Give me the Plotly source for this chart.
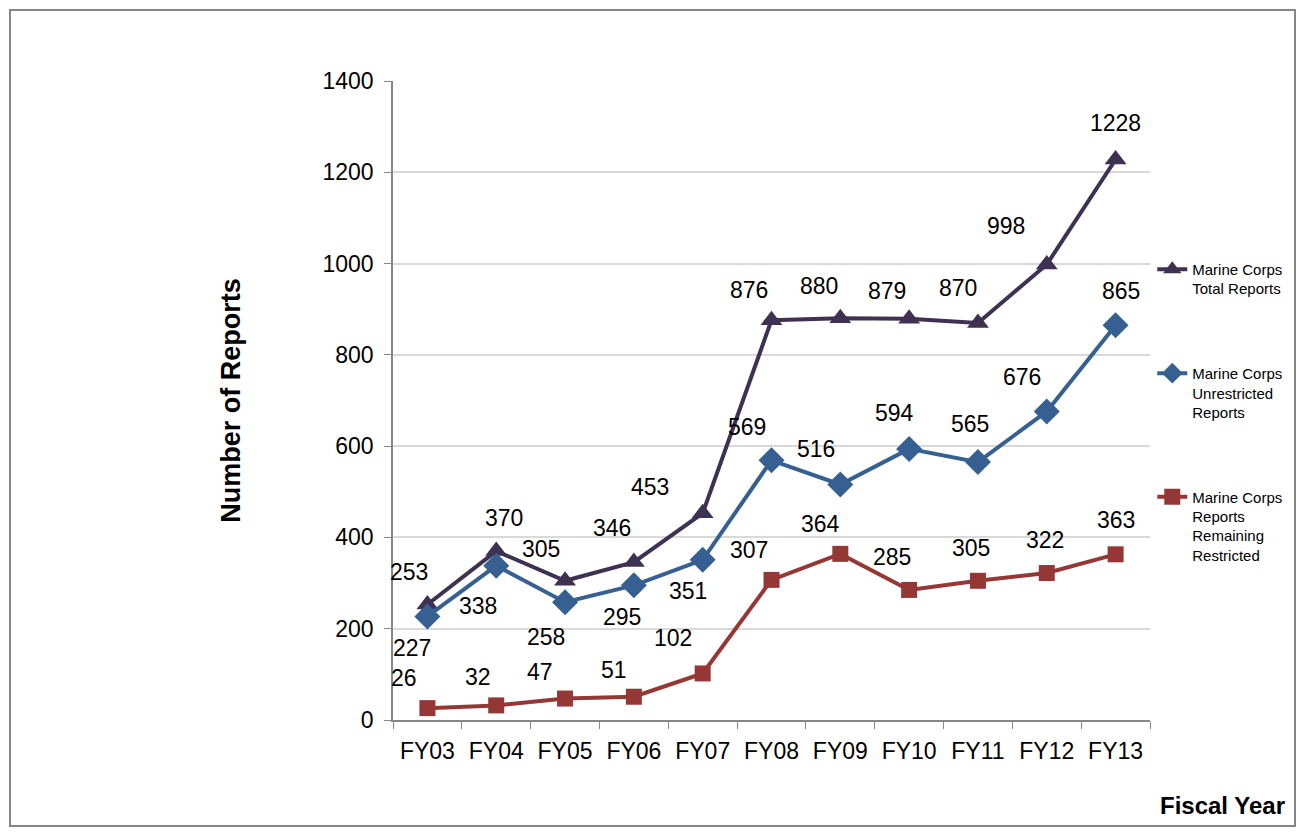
import plotly.graph_objects as go

# ---- data ----
years = ["FY03", "FY04", "FY05", "FY06", "FY07", "FY08", "FY09", "FY10", "FY11", "FY12", "FY13"]
total_reports = [253, 370, 305, 346, 453, 876, 880, 879, 870, 998, 1228]
unrestricted_reports = [227, 338, 258, 295, 351, 569, 516, 594, 565, 676, 865]
restricted_reports = [26, 32, 47, 51, 102, 307, 364, 285, 305, 322, 363]
y_tick_values = [0, 200, 400, 600, 800, 1000, 1200, 1400]
series_names = [
    "Marine Corps<br>Total Reports",
    "Marine Corps<br>Unrestricted<br>Reports",
    "Marine Corps<br>Reports<br>Remaining<br>Restricted",
]

FONT = "Liberation Sans, Arial, sans-serif"
# the page adds an 8px body margin, so the figure is 8px smaller than the window
W, H = 1296, 827
L, R, T, B = 385, 154, 73, 115
PW, PH = W - L - R, H - T - B

COL_TOTAL, COL_UNRES, COL_RESTR = "#3f3151", "#376092", "#953735"

# data-label offsets in pixels (style): (dx, dy), dy positive = up
off_total = [(-18, 33), (8, 33), (-24, 32), (-22, 34), (-53, 26), (-23, 30),
             (-21, 32), (-22, 28), (-20, 35), (-41, 38), (0, 37)]
off_unres = [(-15, -32), (-18, -40), (-19, -35), (-12, -32), (-15, -31), (-25, 33),
             (-24, 35), (-15, 36), (-8, 38), (-25, 34), (5, 34)]
off_restr = [(-23, 30), (-18, 28), (-25, 27), (-20, 27), (-30, 35), (-23, 30),
             (-20, 30), (-17, 33), (-7, 33), (-2, 33), (0, 34)]

fig = go.Figure()

fig.add_trace(go.Scatter(
    x=years, y=total_reports, name=series_names[0], legendgroup="a",
    mode="lines+markers",
    line=dict(color=COL_TOTAL, width=4),
    marker=dict(symbol="triangle-up", size=19, color=COL_TOTAL),
    cliponaxis=False,
))
fig.add_trace(go.Scatter(
    x=years, y=unrestricted_reports, name=series_names[1], legendgroup="b",
    mode="lines+markers",
    line=dict(color=COL_UNRES, width=4),
    marker=dict(symbol="diamond", size=20, color=COL_UNRES),
    cliponaxis=False,
))
fig.add_trace(go.Scatter(
    x=years, y=restricted_reports, name=series_names[2], legendgroup="c",
    mode="lines+markers",
    line=dict(color=COL_RESTR, width=4),
    marker=dict(symbol="square", size=16, color=COL_RESTR),
    cliponaxis=False,
))

annotations = []
for values, offsets in ((total_reports, off_total), (unrestricted_reports, off_unres),
                        (restricted_reports, off_restr)):
    for yr, v, (dx, dy) in zip(years, values, offsets):
        annotations.append(dict(
            x=yr, y=v, xref="x", yref="y", text=str(v), showarrow=False,
            xanchor="center", yanchor="middle", xshift=dx, yshift=dy,
            font=dict(family=FONT, size=23, color="black"),
        ))

annotations.append(dict(
    text="<b>Fiscal Year</b>", xref="paper", yref="paper",
    x=(1214 - L) / PW, y=(712 - 797) / PH, xanchor="center", yanchor="middle", showarrow=False,
    font=dict(family=FONT, size=24, color="black"),
))

fig.update_layout(
    width=W, height=H,
    margin=dict(l=L, r=R, t=T, b=B, autoexpand=False),
    paper_bgcolor="white", plot_bgcolor="white",
    font=dict(family=FONT, size=23, color="black"),
    showlegend=True,
    legend=dict(
        x=1.003, xanchor="left", y=0.731, yanchor="top",
        font=dict(family=FONT, size=15, color="black"),
        tracegroupgap=62, valign="top", itemwidth=30,
        bgcolor="rgba(0,0,0,0)",
    ),
    xaxis=dict(
        type="category", categoryorder="array", categoryarray=years,
        showgrid=False, showline=True, linecolor="#868686", linewidth=1.5,
        ticks="outside", tickson="boundaries", ticklen=7, tickcolor="#868686",
        ticklabelstandoff=10,
        tickfont=dict(family=FONT, size=23, color="black"),
        range=[-0.5, len(years) - 0.5],
    ),
    yaxis=dict(
        range=[0, 1400], tickvals=y_tick_values, showgrid=True, gridcolor="#d9d9d9",
        gridwidth=1.5, showline=True, linecolor="#868686", linewidth=1.5,
        ticks="outside", ticklen=7, tickcolor="#868686", ticklabelstandoff=6,
        tickfont=dict(family=FONT, size=23, color="black"),
        title=dict(text="<b>Number of Reports</b>", font=dict(family=FONT, size=27, color="black"),
                   standoff=74),
        zeroline=False,
    ),
    annotations=annotations,
    shapes=[dict(
        type="rect", xref="paper", yref="paper",
        x0=(2 - L) / PW, x1=(1287 - L) / PW,
        y0=(712 - 818) / PH, y1=(712 - 2) / PH,
        line=dict(color="#868686", width=2), fillcolor="rgba(0,0,0,0)", layer="below",
    )],
)

fig.write_html("out.html")
